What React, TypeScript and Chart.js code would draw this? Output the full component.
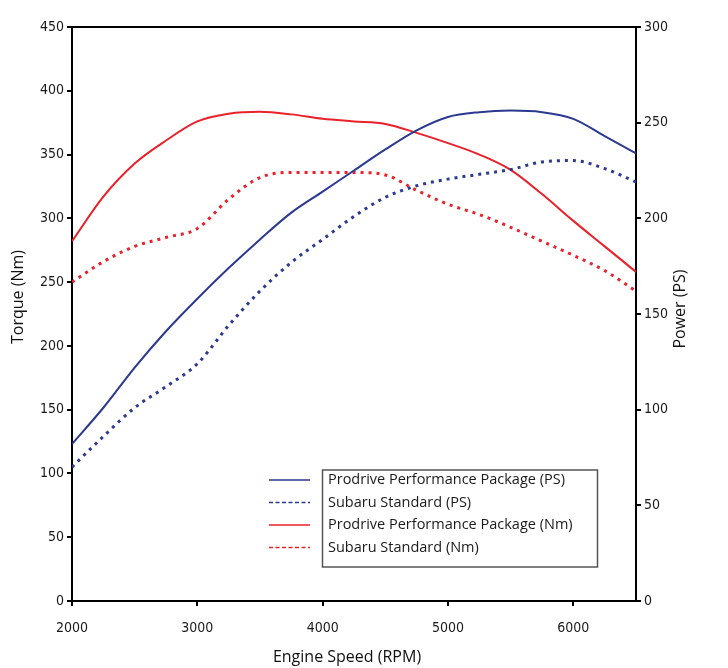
import React, { useEffect, useRef } from "react";
import { Chart, registerables } from "chart.js";

Chart.register(...registerables);

const rpm = [2000, 2250, 2500, 2750, 3000, 3250, 3500, 3750, 4000, 4250, 4500, 4750, 5000, 5250, 5500, 5750, 6000, 6250, 6500];
const prodriveNm = [282, 317, 343, 361, 376, 382, 383.5, 381.5, 378, 376, 374, 367, 359, 350, 338, 319, 298, 278, 258];
const subaruNm = [250, 266, 278, 285, 292, 315, 332, 336, 336, 336, 334, 322, 311, 303, 293, 282, 271, 259, 243];
const prodrivePS = [82, 101, 122, 141, 158, 174, 189, 203, 214, 225, 236, 246, 253, 255.5, 256.3, 255.5, 252, 243, 234];
const subaruPS = [70, 86, 101, 112, 124, 144, 162, 177, 189, 201, 211, 217, 220.5, 223, 225.5, 229.5, 230.2, 226, 219];

const xTicks = [2000, 3000, 4000, 5000, 6000];
const yTicks = [0, 50, 100, 150, 200, 250, 300, 350, 400, 450];
const y1Ticks = [0, 50, 100, 150, 200, 250, 300];

const seriesLabels = [
  "Prodrive Performance Package (PS)",
  "Subaru Standard (PS)",
  "Prodrive Performance Package (Nm)",
  "Subaru Standard (Nm)",
];
const xTitle = "Engine Speed (RPM)";
const yTitle = "Torque (Nm)";
const y1Title = "Power (PS)";

const RED = "#e8212b";
const BLUE = "#2b3990";
const TICK_FONT = "'Liberation Sans Narrow', 'DejaVu Sans Condensed', Arial, sans-serif";
const TEXT_FONT = "'Open Sans', 'DejaVu Sans', sans-serif";

const pts = (ys: number[]) => rpm.map((x, i) => ({ x, y: ys[i] }));
const setTicks = (vals: number[]) => (s: any) => {
  s.ticks = vals.map((value) => ({ value }));
};

const overlayPlugin = {
  id: "overlay",
  afterDraw(chart: any) {
    const { ctx, chartArea } = chart;
    ctx.save();
    ctx.strokeStyle = "#000";
    ctx.lineWidth = 2;
    ctx.beginPath();
    ctx.moveTo(chartArea.left - 1, chartArea.top);
    ctx.lineTo(chartArea.right + 1, chartArea.top);
    ctx.stroke();

    ctx.fillStyle = "#111";
    ctx.font = `16px ${TEXT_FONT}`;
    ctx.textAlign = "center";
    ctx.textBaseline = "middle";
    ctx.fillText(xTitle, 347, 657);
    ctx.save();
    ctx.translate(18, 297);
    ctx.rotate(-Math.PI / 2);
    ctx.fillText(yTitle, 0, 0);
    ctx.restore();
    ctx.save();
    ctx.translate(680, 309);
    ctx.rotate(-Math.PI / 2);
    ctx.fillText(y1Title, 0, 0);
    ctx.restore();

    ctx.strokeStyle = "#555";
    ctx.lineWidth = 1.5;
    ctx.setLineDash([]);
    ctx.strokeRect(322.5, 470, 275, 97);
    ctx.font = `14.5px ${TEXT_FONT}`;
    ctx.textAlign = "left";
    chart.data.datasets.forEach((ds: any, i: number) => {
      const y = 480 + i * 22.5;
      ctx.strokeStyle = ds.borderColor;
      ctx.lineWidth = 1.5;
      ctx.setLineDash(ds.borderDash && ds.borderDash.length ? [4, 2.5] : []);
      ctx.beginPath();
      ctx.moveTo(269, y);
      ctx.lineTo(310, y);
      ctx.stroke();
      ctx.setLineDash([]);
      ctx.fillStyle = "#1a1a1a";
      ctx.fillText(ds.label, 328, y);
    });
    ctx.restore();
  },
};

export default function App() {
  const ref = useRef<HTMLCanvasElement | null>(null);

  useEffect(() => {
    if (!ref.current) return;
    const axisGrid = {
      drawOnChartArea: false,
      drawTicks: true,
      tickLength: 5,
      color: "#000",
      lineWidth: 2,
    };
    const border = { color: "#000", width: 2 };
    const tickFont = { family: TICK_FONT, size: 14 };
    const line = (label: string, data: number[], axis: string, color: string, dotted: boolean) => ({
      label,
      data: pts(data),
      yAxisID: axis,
      borderColor: color,
      borderWidth: dotted ? 3 : 2,
      borderDash: dotted ? [3, 5] : [],
      pointRadius: 0,
      tension: 0.4,
      cubicInterpolationMode: "monotone",
    });
    const chart = new Chart(ref.current, {
      type: "line",
      data: {
        datasets: [
          line(seriesLabels[0], prodrivePS, "y1", BLUE, false),
          line(seriesLabels[1], subaruPS, "y1", BLUE, true),
          line(seriesLabels[2], prodriveNm, "y", RED, false),
          line(seriesLabels[3], subaruNm, "y", RED, true),
        ],
      },
      options: {
        responsive: false,
        animation: false,
        layout: { padding: { top: 27, left: 0, right: 0, bottom: 0 } },
        plugins: { legend: { display: false }, tooltip: { enabled: false } },
        scales: {
          x: {
            type: "linear",
            min: 2000,
            max: 6500,
            grid: axisGrid,
            border,
            afterBuildTicks: setTicks(xTicks),
            ticks: {
              autoSkip: false,
              color: "#1a1a1a",
              font: tickFont,
              padding: 14,
              maxRotation: 0,
              callback: (v: any) => String(v),
            },
            afterFit: (s: any) => {
              s.height = 67;
            },
          },
          y: {
            type: "linear",
            position: "left",
            min: 0,
            max: 450,
            grid: axisGrid,
            border,
            afterBuildTicks: setTicks(yTicks),
            ticks: { autoSkip: false, color: "#1a1a1a", font: tickFont, padding: 3 },
            afterFit: (s: any) => {
              s.width = 72;
            },
          },
          y1: {
            type: "linear",
            position: "right",
            min: 0,
            max: 300,
            grid: axisGrid,
            border,
            afterBuildTicks: setTicks(y1Ticks),
            ticks: { autoSkip: false, color: "#1a1a1a", font: tickFont, padding: 3 },
            afterFit: (s: any) => {
              s.width = 92;
            },
          },
        },
      },
      plugins: [overlayPlugin],
    } as any);
    return () => chart.destroy();
  }, []);

  return (
    <div style={{ position: "absolute", left: 0, top: 0, width: 728, height: 668, background: "#fff" }}>
      <canvas ref={ref} width={728} height={668} />
    </div>
  );
}
